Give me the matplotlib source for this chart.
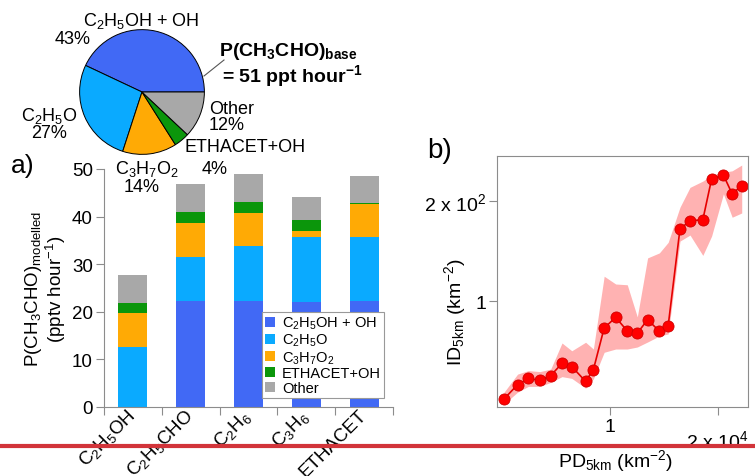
import matplotlib
matplotlib.use("Agg")
import matplotlib.pyplot as plt
import matplotlib.transforms as mtransforms
from matplotlib.patches import Patch
from matplotlib.lines import Line2D
import numpy as np

plt.rcParams['font.family'] = ['Liberation Sans', 'DejaVu Sans']
plt.rcParams['mathtext.fontset'] = 'custom'
plt.rcParams['mathtext.rm'] = 'Liberation Sans'
plt.rcParams['mathtext.it'] = 'Liberation Sans:italic'
plt.rcParams['mathtext.bf'] = 'Liberation Sans:bold'

# --- data -------------------------------------------------------------
sources = ['C$_2$H$_5$OH + OH', 'C$_2$H$_5$O', 'C$_3$H$_7$O$_2$', 'ETHACET+OH', 'Other']
colors = ['#4169f5', '#0aaaff', '#ffaa05', '#0b960b', '#a8a8a8']

# base-case share of P(CH3CHO), percent
pie_share = [43, 27, 14, 4, 12]

# modelled production per perturbed species (pptv hour-1), stacked by source
scenarios = ['C$_2$H$_5$OH', 'C$_2$H$_5$CHO', 'C$_2$H$_6$', 'C$_3$H$_6$', 'ETHACET']
c2h5oh_oh = [0.0, 22.3, 22.2, 22.0, 22.2]
c2h5o = [12.7, 9.3, 11.6, 13.7, 13.5]
c3h7o2 = [7.1, 7.0, 6.9, 1.3, 6.9]
ethacet_oh = [2.0, 2.3, 2.3, 2.3, 0.2]
other = [6.0, 5.9, 5.9, 4.9, 5.8]

# panel b: binned ID vs PD (axis units), with spread band
pd_bin = [0.28, 0.82, 1.25, 1.71, 2.14, 2.59, 2.98, 3.53, 3.84, 4.27, 4.73, 5.19,
          5.59, 6.00, 6.47, 6.82, 7.29, 7.69, 8.20, 8.55, 9.02, 9.37, 9.75]
id_mid = [0.32, 0.89, 1.14, 1.06, 1.25, 1.74, 1.61, 1.02, 1.49, 3.15, 3.57, 3.03,
          2.94, 3.48, 3.02, 3.24, 7.09, 7.42, 7.46, 9.08, 9.24, 8.49, 8.82]
id_hi = [0.59, 1.31, 1.45, 1.41, 1.51, 2.55, 2.24, 2.58, 2.31, 5.21, 4.90, 4.87,
         3.59, 5.94, 6.14, 6.56, 7.96, 8.75, 9.00, 9.24, 9.35, 9.41, 9.64]
id_lo = [0.12, 0.59, 0.82, 0.82, 0.98, 1.21, 1.14, 0.75, 1.12, 2.18, 2.31, 2.31,
         2.39, 2.59, 2.83, 2.91, 6.61, 6.85, 6.04, 6.81, 8.49, 7.56, 7.73]
b_xticks = [4.5, 8.79]
b_xticklabels = ['1', '2 x 10$^4$']
b_yticks = [4.22, 8.21]
b_yticklabels = ['1', '2 x 10$^2$']

W, H = 755, 477
fig = plt.figure(figsize=(W / 100, H / 100), dpi=100)


def fx(px):
    return px / W


def fy(py):
    return 1 - py / H


spine_col = '#8c8c8c'

# --- a) stacked bars ----------------------------------------------------
ax = fig.add_axes([fx(104), fy(408), fx(393) - fx(104), fy(170) - fy(408)])
x = np.arange(len(scenarios))
bottom = np.zeros(len(scenarios))
for vals, col in zip([c2h5oh_oh, c2h5o, c3h7o2, ethacet_oh, other], colors):
    ax.bar(x, vals, 0.5, bottom=bottom, color=col, linewidth=0)
    bottom += np.array(vals)

ax.set_xlim(-0.5, len(scenarios) - 0.5)
ax.set_ylim(0, 50)
ax.set_yticks([0, 10, 20, 30, 40, 50])
ax.set_xticks(np.arange(len(scenarios) + 1) - 0.5)
ax.set_xticklabels([])
ax.set_xticks(x, minor=True)
ax.set_xticklabels(scenarios, minor=True, rotation=45, ha='right', va='center',
                   rotation_mode='anchor', fontsize=13.5)
ax.tick_params(axis='x', which='minor', length=0, pad=4)
ax.tick_params(axis='x', which='major', length=6, color=spine_col)
ax.tick_params(axis='y', length=6, color=spine_col, labelsize=13.5, pad=2)
for s in ['top', 'right']:
    ax.spines[s].set_visible(False)
for s in ['left', 'bottom']:
    ax.spines[s].set_color(spine_col)
ax.set_ylabel('P(CH$_3$CHO)$_{\\rm modelled}$\n(pptv hour$^{-1}$)', fontsize=13.5,
              linespacing=1.0, labelpad=3)

handles = [Patch(facecolor=c, edgecolor='none', label=l) for c, l in zip(colors, sources)]
leg = ax.legend(handles=handles, loc='lower right', bbox_to_anchor=(0.969, 0.038),
                borderaxespad=0, fontsize=10.5, handlelength=0.7, handleheight=0.7,
                handletextpad=0.5, labelspacing=0.05, borderpad=0.2, fancybox=False,
                framealpha=1)
leg.get_frame().set_edgecolor('#999999')
leg.get_frame().set_linewidth(0.8)

fig.text(fx(11), fy(166), 'a)', fontsize=19, va='center', ha='left')

# --- base-case pie -------------------------------------------------------
r = 63
pax = fig.add_axes([fx(142 - r), fy(93 + r), fx(2 * r), 2 * r / H])
pax.pie(pie_share, colors=colors, startangle=0, counterclock=True,
        wedgeprops=dict(edgecolor='black', linewidth=0.7))
pax.set_xlim(-1.01, 1.01)
pax.set_ylim(-1.01, 1.01)
pax.set_aspect('equal')
pax.axis('off')

pie_txt = [
    ('C$_2$H$_5$OH + OH', 141, 21, 'center'),
    ('43%', 73, 40, 'center'),
    ('C$_2$H$_5$O', 49, 116, 'center'),
    ('27%', 49, 133, 'center'),
    ('Other', 209, 109, 'left'),
    ('12%', 209, 126, 'left'),
    ('ETHACET+OH', 185, 148, 'left'),
    ('4%', 215, 169, 'center'),
    ('C$_3$H$_7$O$_2$', 147, 169, 'center'),
    ('14%', 142, 188, 'center'),
]
for s, px, py, ha in pie_txt:
    fig.text(fx(px), fy(py), s, fontsize=13, ha=ha, va='center')

fig.text(fx(219), fy(51), 'P(CH$_\\mathbf{3}$CHO)$_\\mathbf{base}$', fontsize=14,
         fontweight='bold', ha='left', va='center')
fig.text(fx(222), fy(76), '= 51 ppt hour$^\\mathbf{-1}$', fontsize=14,
         fontweight='bold', ha='left', va='center')
fig.add_artist(Line2D([fx(204), fx(224)], [fy(77), fy(61)], color='#555555',
                      linewidth=0.8, transform=fig.transFigure))

# --- b) ID vs PD ---------------------------------------------------------
bx = fig.add_axes([fx(497), fy(408), fx(748) - fx(497), fy(157) - fy(408)])
bx.fill_between(pd_bin, id_lo, id_hi, color='#ffb2b2', linewidth=0)
bx.plot(pd_bin, id_mid, '-o', color='#e60000', markersize=8,
        markerfacecolor='#ff0000', markeredgecolor='#d00000', markeredgewidth=0.6,
        linewidth=1.2)
bx.set_xlim(0, 10)
bx.set_ylim(0, 10)
bx.set_xticks(b_xticks)
bx.set_xticklabels(b_xticklabels, fontsize=14)
bx.set_yticks(b_yticks)
bx.set_yticklabels(b_yticklabels, fontsize=14)
bx.tick_params(length=6, color=spine_col, pad=2)
for s in bx.spines.values():
    s.set_color(spine_col)
# the second x label sits a little lower
lab = bx.get_xticklabels()[1]
lab.set_transform(lab.get_transform() +
                  mtransforms.ScaledTranslation(0, -11 / 100, fig.dpi_scale_trans))

fig.text(fx(455), fy(312), 'ID$_{\\rm 5km}$ (km$^{-2}$)', fontsize=14,
         rotation=90, ha='center', va='center')
fig.text(fx(615), fy(461), 'PD$_{\\rm 5km}$ (km$^{-2}$)', fontsize=14,
         ha='center', va='center')
fig.text(fx(427), fy(151), 'b)', fontsize=20, va='center', ha='left')

# red rule across the page
fig.add_artist(Line2D([0, 1], [fy(446.7), fy(446.7)], color='#d2343a',
                      linewidth=3, transform=fig.transFigure, zorder=10))

fig.savefig('out.png', dpi=100)
